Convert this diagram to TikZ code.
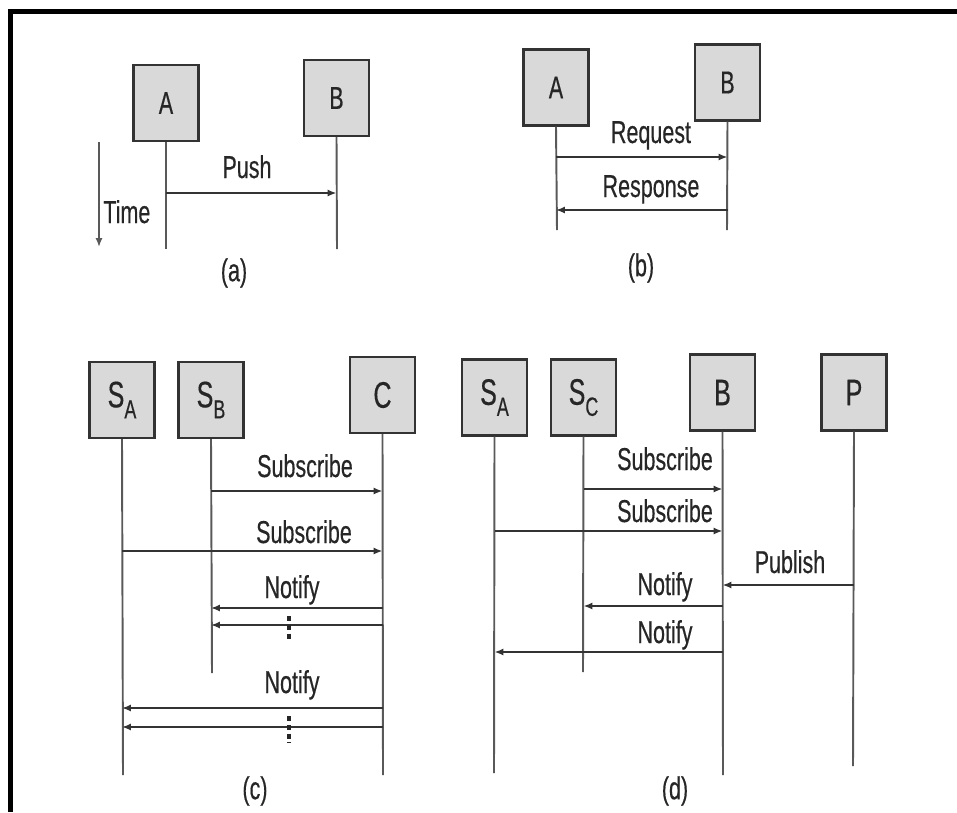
\documentclass[tikz,border=0pt]{standalone}
\usepackage{fontspec}
\setmainfont{Liberation Sans}[FakeStretch=0.68, FakeBold=0.4]
\usetikzlibrary{arrows.meta, positioning}

\newcommand{\subl}[1]{\raisebox{-0.3em}{\fontsize{15}{15}\selectfont #1}}

\tikzset{
  actor/.style={draw=black!80, line width=1.3pt, fill=black!15, minimum width=1.3cm, minimum height=1.52cm, inner sep=0pt, text=black!85},
  small actor/.style={actor, font=\fontsize{18}{18}\selectfont},
  big actor/.style={actor, font=\fontsize{21}{21}\selectfont},
  life/.style={draw=black!65, line width=1.1pt},
  msg/.style={draw=black!80, line width=1.2pt, -{Latex[length=5pt,width=4pt]}},
  lbl/.style={font=\fontsize{18}{18}\selectfont, text=black!85, inner sep=0pt, anchor=base},
  rep/.style={draw=black!85, line width=1.8pt, dash pattern=on 3pt off 2pt},
}

\begin{document}
\begin{tikzpicture}[x=0.02cm, y=-0.02cm]
    \useasboundingbox (0,0) rectangle (957,812);
    % frame
    \draw[line width=0.1cm] (957,11.5) -- (10.5,11.5) -- (10.5,812);

    % (a) push
    \node[small actor] (aA) at (166,103) {A};
    \node[small actor] (aB) at (336.5,98) {B};
    \coordinate (aAend) at (166,249);
    \coordinate (aBend) at (337,249);
    \draw[life] (aA.south) -- (aAend);
    \draw[life] (aB.south) -- (aBend);
    \draw[msg, line width=1.6pt] (aA |- 0,193) -- (aB |- 0,193);
    \node[lbl] (push) at (247,178) {Push};
    \coordinate (t1) at (99,142);
    \coordinate (t2) at (99,247);
    \draw[life, -{Latex[length=5pt,width=4pt]}] (t1) -- (t2);
    \node[lbl, anchor=base west] (time) at (103,223) {Time};
    \node[lbl, anchor=center] (capa) at (234,273) {(a)};

    % (b) request / response
    \node[small actor] (bA) at (556,87.5) {A};
    \node[small actor] (bB) at (727.5,82.5) {B};
    \coordinate (bAend) at (557,230);
    \coordinate (bBend) at (727,230);
    \draw[life] (bA.south) -- (bAend);
    \draw[life] (bB.south) -- (bBend);
    \draw[msg] (bA |- 0,157) -- (bB |- 0,157);
    \node[lbl] (req) at (651,143) {Request};
    \draw[msg] (bB |- 0,210) -- (bA |- 0,210);
    \node[lbl] (resp) at (651,197) {Response};
    \node[lbl, anchor=center] (capb) at (641,268) {(b)};

    % (c) subscribe / notify
    \node[big actor] (cSA) at (122,400) {S\subl{A}};
    \node[big actor] (cSB) at (211,400) {S\subl{B}};
    \node[big actor] (cC) at (382.5,395) {C};
    \coordinate (cSAend) at (123,775);
    \coordinate (cSBend) at (212,673);
    \coordinate (cCend) at (383,775);
    \draw[life] (cSA.south) -- (cSAend);
    \draw[life] (cSB.south) -- (cSBend);
    \draw[life] (cC.south) -- (cCend);
    \draw[msg] (cSB |- 0,491) -- (cC |- 0,491);
    \node[lbl] (csub1) at (305,477) {Subscribe};
    \draw[msg] (cSA |- 0,551) -- (cC |- 0,551);
    \node[lbl] (csub2) at (304,543) {Subscribe};
    \draw[msg] (cC |- 0,608) -- (cSB |- 0,608);
    \draw[msg] (cC |- 0,625) -- (cSB |- 0,625);
    \node[lbl] (cnot1) at (292,598) {Notify};
    \coordinate (r1a) at (289,616);
    \coordinate (r1b) at (289,640);
    \draw[rep] (r1a) -- (r1b);
    \draw[msg, line width=1.6pt] (cC |- 0,708) -- (cSA |- 0,708);
    \draw[msg, line width=1.6pt] (cC |- 0,727) -- (cSA |- 0,727);
    \node[lbl] (cnot2) at (292,693) {Notify};
    \coordinate (r2a) at (289,716);
    \coordinate (r2b) at (289,743);
    \draw[rep] (r2a) -- (r2b);
    \node[lbl, anchor=center] (capc) at (255,791) {(c)};

    % (d) publish / subscribe via broker
    \node[big actor] (dSA) at (494.5,397.5) {S\subl{A}};
    \node[big actor] (dSC) at (583.5,397.5) {S\subl{C}};
    \node[big actor] (dB) at (722.5,392.5) {B};
    \node[big actor] (dP) at (854,392.5) {P};
    \coordinate (dSAend) at (494,773);
    \coordinate (dSCend) at (583,672);
    \coordinate (dBend) at (723,775);
    \coordinate (dPend) at (853,766);
    \draw[life] (dSA.south) -- (dSAend);
    \draw[life] (dSC.south) -- (dSCend);
    \draw[life] (dB.south) -- (dBend);
    \draw[life] (dP.south) -- (dPend);
    \draw[msg] (dSC |- 0,489) -- (dB |- 0,489);
    \node[lbl] (dsub1) at (665,470) {Subscribe};
    \draw[msg] (dSA |- 0,531) -- (dB |- 0,531);
    \node[lbl] (dsub2) at (665,522) {Subscribe};
    \draw[msg] (dP |- 0,585) -- (dB |- 0,585);
    \node[lbl] (dpub) at (790,573) {Publish};
    \draw[msg] (dB |- 0,606) -- (dSC |- 0,606);
    \node[lbl] (dnot1) at (665,595) {Notify};
    \draw[msg] (dB |- 0,652) -- (dSA |- 0,652);
    \node[lbl] (dnot2) at (665,643) {Notify};
    \node[lbl, anchor=center] (capd) at (675,791) {(d)};
\end{tikzpicture}
\end{document}
